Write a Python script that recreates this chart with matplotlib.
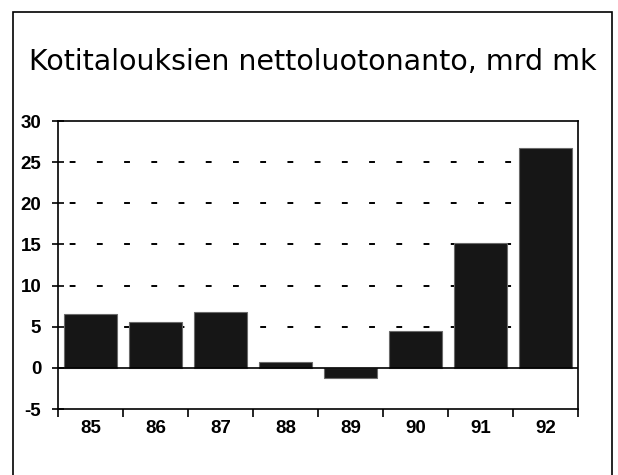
import matplotlib.pyplot as plt
from matplotlib.patches import Rectangle

years = ['85', '86', '87', '88', '89', '90', '91', '92']
lending = [6.6, 5.6, 6.8, 0.7, -1.2, 4.5, 15.2, 26.7]
yticks = [-5, 0, 5, 10, 15, 20, 25, 30]

plt.rcParams['axes.unicode_minus'] = False

fig = plt.figure(figsize=(6.18, 4.75), dpi=100)

# outer frame of the scanned chart (bottom edge runs off the page)
fig.patches.append(Rectangle((13 / 618, -0.05), 599 / 618, 1.05 - 12 / 475,
                             transform=fig.transFigure, fill=False,
                             edgecolor='black', lw=1.2))

fig.text(0.506, 0.869, 'Kotitalouksien nettoluotonanto, mrd mk',
         ha='center', va='center', fontsize=20.5, family='DejaVu Sans')

ax = fig.add_axes([58 / 618, 1 - 409 / 475, 520 / 618, 288 / 475])
x = range(len(years))
ax.bar(x, lending, width=0.82, color='#161616', edgecolor='#6a6a6a', lw=0.8, zorder=3)
ax.axhline(0, color='black', lw=1.2, zorder=4)

for v in yticks[2:-1]:
    ax.axhline(v, color='black', lw=1.4, linestyle=(8, (3, 11)), zorder=1)

ax.set_xlim(-0.5, len(years) - 0.5)
ax.set_ylim(-5, 30)
ax.set_yticks(yticks)
ax.set_xticks(list(x), years)
ax.set_xticks([i + 0.5 for i in range(-1, len(years))], minor=True)
ax.tick_params(axis='x', which='major', length=0, pad=8)
ax.tick_params(axis='x', which='minor', length=6, width=1.2, direction='out')
ax.tick_params(axis='y', length=8, width=1.2, direction='inout', pad=8)
ax.tick_params(labelsize=13.5)
for lab in ax.get_xticklabels() + ax.get_yticklabels():
    lab.set_family('Liberation Sans')
    lab.set_fontweight('bold')

for s in ax.spines.values():
    s.set_linewidth(1.2)

fig.savefig('out.png', dpi=100)
